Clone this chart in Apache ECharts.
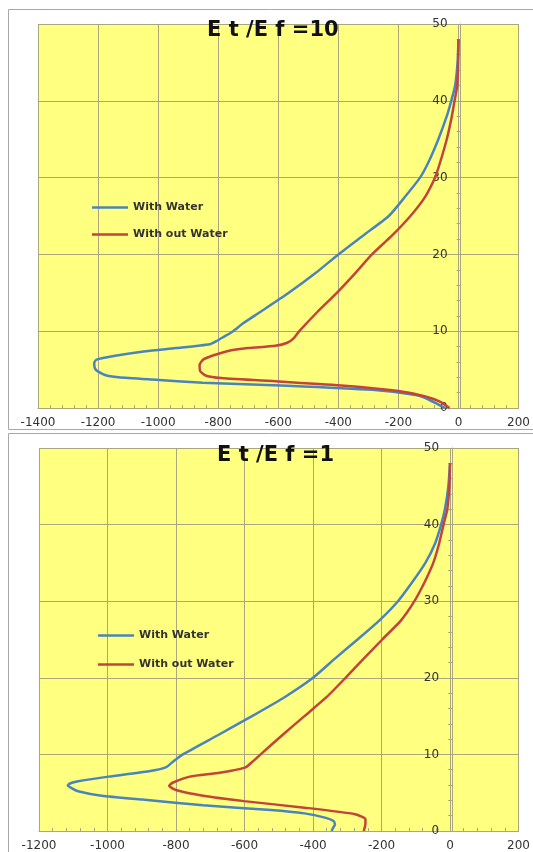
<!DOCTYPE html>
<html>
<head>
<meta charset="utf-8">
<script src="https://cdn.jsdelivr.net/npm/echarts@6.0.0/dist/echarts.min.js"></script>
<style>
  html, body { margin: 0; padding: 0; background: #fff; }
  #chart { width: 533px; height: 852px; }
</style>
</head>
<body>
<div id="chart"></div>
<script>
// Et/Ef = 10
var depthWater10 = [48, 45, 42, 40, 38, 35, 32, 30, 27.5, 25, 22.5, 20, 17.5, 15, 12.5, 11, 10, 9.3, 8.7, 8.3, 7.8, 7.4, 6.8, 6.3, 5.85, 5.0, 4.3, 4.0, 3.7, 3.3, 2.9, 2.36, 1.7, 1.27, 0.6, 0]
var stressWater10 = [0, -3, -11, -24, -39, -67, -100, -128, -178, -232, -316, -400, -478, -565, -660, -718, -750, -780, -806, -828, -941, -1042, -1143, -1205, -1213, -1208, -1177, -1132, -1020, -851, -569, -288, -142, -108, -74, -45]
var depthDry10 = [48, 45, 42, 40, 38, 35, 32, 30, 27.5, 25, 22.5, 20, 17.5, 15, 12.5, 10, 9.1, 8.5, 8.1, 7.8, 7.4, 6.8, 6.3, 5.6, 4.8, 4.2, 3.9, 3.45, 2.9, 2.2, 1.5, 0.8, 0]
var stressDry10 = [0, -1, -4, -13, -22, -39, -61, -78, -111, -160, -220, -288, -345, -405, -470, -530, -548, -570, -610, -700, -770, -820, -850, -862, -860, -840, -790, -600, -380, -200, -110, -60, -30]

// Et/Ef = 1
var depthWater1 = [48, 45, 42, 40, 37.5, 35, 32.5, 30, 27.5, 25, 22.5, 20, 17.5, 15, 12.5, 10, 9, 8.3, 7.8, 7.1, 6.5, 6.2, 5.95, 5.6, 5.2, 4.6, 4.1, 3.35, 2.75, 2.3, 1.75, 1.3, 0.85, 0.45, 0]
var stressWater1 = [0, -5, -15, -26, -44, -72, -110, -152, -206, -270, -336, -400, -482, -578, -678, -780, -810, -830, -879, -997, -1086, -1110, -1116, -1105, -1086, -1017, -899, -721, -523, -425, -365, -340, -336, -341, -346]
var depthDry1 = [48, 45, 42, 40, 37.5, 35, 32.5, 30, 27.5, 25, 22.5, 20, 17.5, 15, 12.5, 10, 9, 8.3, 7.6, 7.1, 6.3, 5.9, 5.35, 4.6, 3.9, 3.05, 2.2, 1.55, 0.9, 0]
var stressDry1 = [0, -2, -8, -19, -32, -49, -74, -104, -143, -198, -252, -305, -360, -425, -490, -553, -578, -597, -672, -760, -810, -820, -800, -721, -602, -425, -277, -247, -247, -252]

var seriesNames = ['With Water', 'With out Water']
var titles = ['E t /E f =10', 'E t /E f =1']
var xMin = [-1400, -1200]
var xMax = [200, 200]
var yMin = 0
var yMax = 50

var blue = '#4a84bd'
var red = '#c2443a'
var gridColor = '#aaa77c'

// grid boxes in pixels
var grids = [
  { left: 38, width: 483, top: 24, height: 384 },
  { left: 39, width: 482, top: 448, height: 385 }
]

function pairs(xs, ys) {
  var out = []
  for (var i = 0; i < xs.length; i++) {
    out.push([xs[i], ys[i]])
  }
  return out
}

function xAxisFor(idx) {
  return {
    type: 'value',
    gridIndex: idx,
    min: xMin[idx],
    max: xMax[idx],
    interval: 200,
    axisLine: { show: true, lineStyle: { color: gridColor } },
    axisTick: { show: true, inside: true, length: 4, lineStyle: { color: gridColor } },
    minorTick: { show: true, splitNumber: 5, length: 3, lineStyle: { color: gridColor } },
    splitLine: { show: true, lineStyle: { color: gridColor, width: 1 } },
    axisLabel: {
      color: '#333', fontFamily: 'DejaVu Sans', fontSize: 12, margin: 9,
      formatter: function(v) { return String(v) }
    }
  }
}

function yAxisFor(idx) {
  // put the vertical axis on x = 0
  var g = grids[idx]
  var zeroPx = (0 - xMin[idx]) / (xMax[idx] - xMin[idx]) * g.width
  return {
    type: 'value',
    gridIndex: idx,
    position: 'left',
    offset: -zeroPx,
    min: yMin,
    max: yMax,
    interval: 10,
    axisLine: { show: true, onZero: false, lineStyle: { color: gridColor } },
    axisTick: { show: true, length: 5, lineStyle: { color: gridColor } },
    minorTick: { show: true, splitNumber: 5, length: 4, lineStyle: { color: gridColor } },
    splitLine: { show: true, lineStyle: { color: gridColor, width: 1 } },
    axisLabel: { color: '#333', fontFamily: 'DejaVu Sans', fontSize: 12, margin: 13 }
  }
}

function lineSeries(name, idx, color, data) {
  return {
    name: name,
    type: 'line',
    xAxisIndex: idx,
    yAxisIndex: idx,
    data: data,
    symbol: 'none',
    smooth: 0.2,
    color: color,
    lineStyle: { width: 2.5, color: color }
  }
}

function legendFor(left, top, gap) {
  return {
    data: seriesNames,
    orient: 'vertical',
    left: left,
    top: top,
    padding: 0,
    icon: 'rect',
    itemWidth: 36,
    itemHeight: 2.5,
    itemGap: gap,
    textStyle: { fontFamily: 'DejaVu Sans', fontWeight: 'bold', fontSize: 11, color: '#333' }
  }
}

function titleFor(text, left, top) {
  return {
    text: text,
    left: left,
    top: top,
    padding: 0,
    textStyle: { fontFamily: 'DejaVu Sans', fontWeight: 'bold', fontSize: 21, color: '#111' }
  }
}

var chart = echarts.init(document.getElementById('chart'), null, { renderer: 'canvas' })

chart.setOption({
  backgroundColor: '#fff',
  animation: false,
  graphic: [
    { type: 'rect', z: -10, shape: { x: 8.5, y: 9.5, width: 560, height: 420 }, style: { fill: '#fff', stroke: '#a8a8a8', lineWidth: 1 } },
    { type: 'rect', z: -10, shape: { x: 8.5, y: 433.5, width: 560, height: 440 }, style: { fill: '#fff', stroke: '#a8a8a8', lineWidth: 1 } }
  ],
  title: [titleFor(titles[0], 207, 20), titleFor(titles[1], 217, 445)],
  legend: [legendFor(92, 202, 16), legendFor(98, 630, 18)],
  grid: [
    { left: grids[0].left, width: grids[0].width, top: grids[0].top, height: grids[0].height, show: true, backgroundColor: '#ffff80', borderWidth: 0 },
    { left: grids[1].left, width: grids[1].width, top: grids[1].top, height: grids[1].height, show: true, backgroundColor: '#ffff80', borderWidth: 0 }
  ],
  xAxis: [xAxisFor(0), xAxisFor(1)],
  yAxis: [yAxisFor(0), yAxisFor(1)],
  series: [
    lineSeries(seriesNames[0], 0, blue, pairs(stressWater10, depthWater10)),
    lineSeries(seriesNames[1], 0, red, pairs(stressDry10, depthDry10)),
    lineSeries(seriesNames[0], 1, blue, pairs(stressWater1, depthWater1)),
    lineSeries(seriesNames[1], 1, red, pairs(stressDry1, depthDry1))
  ]
})
</script>
</body>
</html>
